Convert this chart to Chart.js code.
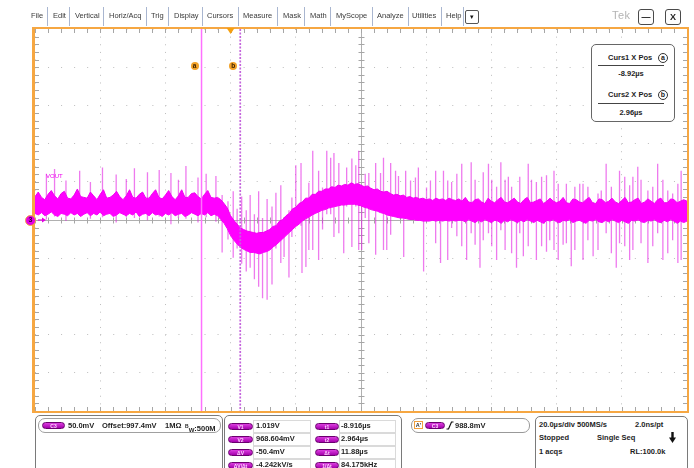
<!DOCTYPE html>
<html>
<head>
<meta charset="utf-8">
<title>VOUT load transient</title>
<script src="https://cdn.jsdelivr.net/npm/chart.js@4.4.1/dist/chart.umd.min.js"></script>
<style>
  html, body { margin:0; padding:0; background:#fff; }
  body { width:694px; height:468px; position:relative; overflow:hidden;
         font-family:"Liberation Sans", Arial, sans-serif; color:#222; }
  #scope { position:absolute; left:0; top:0; }
  .abs { position:absolute; white-space:nowrap; }
  .menu { top:11px; font-size:7.5px; line-height:10px; color:#3a3a3a; }
  .sep { top:7px; width:1px; height:19px; background:#a9b6d0; }
  .btn { top:9px; width:14px; height:14px; border:1px solid #4a4a4a; border-radius:3px;
         background:#fdfdfd; font:bold 9px/14px "Liberation Sans", Arial, sans-serif; text-align:center; color:#222; }
  .panel { box-sizing:border-box; border:1.5px solid #7a7a7a; border-radius:5px; background:#fff; }
  .b { font-weight:bold; font-size:7.5px; line-height:10px; color:#1e1e1e; }
  .pill { box-sizing:border-box; height:7px; border-radius:4px; background:linear-gradient(#dc3ee0,#a400ac);
          border:0.6px solid #6a006e; color:#ffd8ff; font:bold 5px/6px "Liberation Sans", Arial, sans-serif; text-align:center; }
  .vbox { box-sizing:border-box; height:13px; border:1px solid #dadada; }
  .clab { width:8px; height:8px; border-radius:50%; background:#f2a228; color:#3a2000;
          font:bold 6.5px/8px "Liberation Sans", Arial, sans-serif; text-align:center; }
  .circ { box-sizing:border-box; width:10px; height:10px; border:1px solid #333; border-radius:50%;
          font:bold 7px/8px "Liberation Sans", Arial, sans-serif; text-align:center; color:#222; }
</style>
</head>
<body>
<canvas id="scope" width="694" height="468"></canvas>

<!-- menu bar -->
<div class="abs menu" style="left:31px">File</div>
<div class="abs sep" style="left:47px"></div>
<div class="abs menu" style="left:53px">Edit</div>
<div class="abs sep" style="left:69px"></div>
<div class="abs menu" style="left:75px">Vertical</div>
<div class="abs sep" style="left:103px"></div>
<div class="abs menu" style="left:109px">Horiz/Acq</div>
<div class="abs sep" style="left:146px"></div>
<div class="abs menu" style="left:151px">Trig</div>
<div class="abs sep" style="left:168px"></div>
<div class="abs menu" style="left:174px">Display</div>
<div class="abs sep" style="left:202px"></div>
<div class="abs menu" style="left:207px">Cursors</div>
<div class="abs sep" style="left:238px"></div>
<div class="abs menu" style="left:243px">Measure</div>
<div class="abs sep" style="left:277px"></div>
<div class="abs menu" style="left:283px">Mask</div>
<div class="abs sep" style="left:304px"></div>
<div class="abs menu" style="left:310px">Math</div>
<div class="abs sep" style="left:330px"></div>
<div class="abs menu" style="left:336px">MyScope</div>
<div class="abs sep" style="left:372px"></div>
<div class="abs menu" style="left:377px">Analyze</div>
<div class="abs sep" style="left:408px"></div>
<div class="abs menu" style="left:412px">Utilities</div>
<div class="abs sep" style="left:441px"></div>
<div class="abs menu" style="left:446px">Help</div>
<div class="abs sep" style="left:463px"></div>
<div class="abs" style="left:465px;top:10px;width:12px;height:12px;border:1px solid #555;border-radius:2px;font-size:7px;line-height:12px;text-align:center;color:#111">&#9662;</div>
<div class="abs" style="left:612px;top:9px;font-size:11px;line-height:13px;color:#b4b4b4;letter-spacing:0.5px">Tek</div>
<div class="abs btn" style="left:638px">&#8212;</div>
<div class="abs btn" style="left:665px">X</div>

<!-- cursor readout -->
<div class="abs" style="left:591px;top:44px;width:84px;height:78px;box-sizing:border-box;border:1.5px solid #666;border-radius:5px;background:#fff"></div>
<div class="abs b" style="left:608px;top:53px">Curs1 X Pos</div>
<div class="abs circ" style="left:658px;top:53px">a</div>
<div class="abs" style="left:598px;top:65px;width:66px;height:1px;background:#444"></div>
<div class="abs b" style="left:598px;top:69px;width:66px;text-align:center">-8.92&#181;s</div>
<div class="abs b" style="left:608px;top:90px">Curs2 X Pos</div>
<div class="abs circ" style="left:658px;top:90px">b</div>
<div class="abs" style="left:598px;top:103px;width:66px;height:1px;background:#444"></div>
<div class="abs b" style="left:598px;top:108px;width:66px;text-align:center">2.96&#181;s</div>

<!-- markers placed from the chart scales -->
<div id="labA" class="abs clab">a</div>
<div id="labB" class="abs clab">b</div>
<div id="chMark" class="abs" style="box-sizing:border-box;width:11px;height:11px;border-radius:50%;border:1.5px solid #f6a742;background:#e400e4;color:#3a003a;font:bold 7px/8px 'Liberation Sans',Arial,sans-serif;text-align:center">3</div>
<div id="chName" class="abs" style="font-size:6px;line-height:7px;color:#ee00ee">VOUT</div>

<!-- vertical settings -->
<div class="abs panel" style="left:35px;top:415px;width:188px;height:60px"></div>
<div class="abs" style="left:38px;top:418px;width:183px;height:15px;box-sizing:border-box;border:1px solid #a0a0a0;border-radius:7px"></div>
<div class="abs pill" style="left:42px;top:422px;width:23px">C3</div>
<div class="abs b" style="left:68px;top:421px">50.0mV</div>
<div class="abs b" style="left:102px;top:421px">Offset:997.4mV</div>
<div class="abs b" style="left:165px;top:421px">1M&#937;</div>
<div class="abs b" style="left:185px;top:421px"><span style="font-size:5px;vertical-align:3px">B</span><span style="font-size:6px;vertical-align:-1px">W</span>:500M</div>

<!-- cursor measurements -->
<div class="abs panel" style="left:224px;top:415px;width:178px;height:60px"></div>
<div class="abs vbox" style="left:253px;top:420px;width:58px"></div>
<div class="abs vbox" style="left:339px;top:420px;width:57px"></div>
<div class="abs vbox" style="left:253px;top:433px;width:58px"></div>
<div class="abs vbox" style="left:339px;top:433px;width:57px"></div>
<div class="abs vbox" style="left:253px;top:446px;width:58px"></div>
<div class="abs vbox" style="left:339px;top:446px;width:57px"></div>
<div class="abs vbox" style="left:253px;top:459px;width:58px"></div>
<div class="abs vbox" style="left:339px;top:459px;width:57px"></div>
<div class="abs pill" style="left:228px;top:423px;width:25px">V1</div>
<div class="abs b" style="left:256px;top:421px">1.019V</div>
<div class="abs pill" style="left:315px;top:423px;width:24px">t1</div>
<div class="abs b" style="left:341px;top:421px">-8.916&#181;s</div>
<div class="abs pill" style="left:228px;top:436px;width:25px">V2</div>
<div class="abs b" style="left:256px;top:434px">968.604mV</div>
<div class="abs pill" style="left:315px;top:436px;width:24px">t2</div>
<div class="abs b" style="left:341px;top:434px">2.964&#181;s</div>
<div class="abs pill" style="left:228px;top:449px;width:25px">&#916;V</div>
<div class="abs b" style="left:256px;top:447px">-50.4mV</div>
<div class="abs pill" style="left:315px;top:449px;width:24px">&#916;t</div>
<div class="abs b" style="left:341px;top:447px">11.88&#181;s</div>
<div class="abs pill" style="left:228px;top:462px;width:25px">&#916;V/&#916;t</div>
<div class="abs b" style="left:256px;top:460px">-4.242kV/s</div>
<div class="abs pill" style="left:315px;top:462px;width:24px">1/&#916;t</div>
<div class="abs b" style="left:341px;top:460px">84.175kHz</div>

<!-- trigger -->
<div class="abs" style="left:411px;top:418px;width:119px;height:15px;box-sizing:border-box;border:1px solid #999;border-radius:7px"></div>
<div class="abs" style="left:414px;top:421px;width:9px;height:8px;box-sizing:border-box;border:1px solid #f0a040;font:bold 5.5px/6px 'Liberation Sans',Arial,sans-serif;text-align:center;color:#333">A'</div>
<div class="abs pill" style="left:425px;top:422px;width:20px">C3</div>
<svg class="abs" style="left:446px;top:421px" width="8" height="9" viewBox="0 0 8 9"><path d="M0.5 8 L2.5 8 L5.5 1 L7.5 1" fill="none" stroke="#111" stroke-width="1.2"/></svg>
<div class="abs b" style="left:455px;top:421px">988.8mV</div>

<!-- horizontal / acquisition -->
<div class="abs panel" style="left:535px;top:416px;width:153px;height:60px"></div>
<div class="abs b" style="left:539px;top:420px">20.0&#181;s/div</div>
<div class="abs b" style="left:577px;top:420px">500MS/s</div>
<div class="abs b" style="left:635px;top:420px">2.0ns/pt</div>
<div class="abs b" style="left:539px;top:433px">Stopped</div>
<div class="abs b" style="left:597px;top:433px">Single Seq</div>
<svg class="abs" style="left:669px;top:432px" width="7" height="11" viewBox="0 0 7 11"><rect x="2.3" y="0" width="2.4" height="6" fill="#111"/><path d="M0 5.5 L7 5.5 L3.5 11 Z" fill="#111"/></svg>
<div class="abs b" style="left:539px;top:447px">1 acqs</div>
<div class="abs b" style="left:630px;top:447px">RL:100.0k</div>

<script>
// Channel 3 (VOUT) record, 20 µs/div, 50 mV/div, offset 997.4 mV.
// Sample times in µs, trigger at 0.
const sampleTime = [
  -60,-59,-58,-57,-56,-55,-54,-53,-52,-51,-50,-49,-48,-47,-46,-45,-44,-43,-42,-41,
  -40,-39,-38,-37,-36,-35,-34,-33,-32,-31,-30,-29,-28,-27,-26,-25,-24,-23,-22,-21,
  -20,-19,-18,-17,-16,-15,-14,-13,-12,-11,-10,-9,-8,-7,-6,-5,-4,-3,-2,-1,
  0,1,2,3,4,5,6,7,8,9,10,11,12,13,14,15,16,17,18,19,
  20,21,22,23,24,25,26,27,28,29,30,31,32,33,34,35,36,37,38,39,
  40,41,42,43,44,45,46,47,48,49,50,51,52,53,54,55,56,57,58,59,
  60,61,62,63,64,65,66,67,68,69,70,71,72,73,74,75,76,77,78,79,
  80,81,82,83,84,85,86,87,88,89,90,91,92,93,94,95,96,97,98,99,
  100,101,102,103,104,105,106,107,108,109,110,111,112,113,114,115,116,117,118,119,
  120,121,122,123,124,125,126,127,128,129,130,131,132,133,134,135,136,137,138,139,140
];

// Upper edge of the ripple band (mV)
const topMv = [
  1028,1034,1027,1024,1031,1036,1029,1025,1032,1035,
  1026,1025,1030,1038,1028,1027,1026,1034,1029,1024,
  1031,1037,1026,1027,1030,1035,1028,1024,1029,1037,
  1027,1026,1031,1034,1026,1026,1032,1037,1027,1025,
  1030,1036,1028,1024,1029,1037,1027,1027,1032,1033,
  1028,1025,1031,1036,1027,1026,
  1027,1024,1019,1013,1003,997,992,987,985,983,982,981,980,981,981,983,
  985,989,990,996,998,1003,1006,1012,1014,1019,1021,1026,1026,1031,1031,
  1035,1035,1038,1038,1041,1040,1043,1042,1044,1043,1046,1044,
  1045,1043,1041,1042,1039,1037,1038,1035,1034,1035,
  1032,1030,1031,1029,1030,1027,1028,1026,1027,1025,
  1026,1024,1025,1023,1026,1024,1025,1023,1026,1024,1023,1025,
  1022,1027,1021,1020,1024,1025,1021,1019,1026,1022,
  1020,1024,1027,1021,1020,1023,1026,1021,1019,1024,
  1027,1020,1021,1023,1025,1019,1022,1026,1022,1020,
  1022,1027,1020,1019,1025,1024,1021,1020,1024,1027,
  1020,1019,1025,1024,1020,1022,1026,1021,1019,1023,
  1027,1020,1021,1024,1026,1019,1021,1025,1022,1019,
  1024,1026,1020,1020,1025,1024,1020,1022,1024,1022
];

// Lower edge of the ripple band (mV)
const bottomMv = [
  1006,1004,1007,1003,1005,1008,1004,1002,1006,1005,
  1003,1007,1004,1006,1002,1005,1007,1003,1006,1004,
  1008,1003,1005,1006,1002,1004,1007,1005,1003,1006,
  1004,1008,1002,1005,1006,1003,1007,1004,1005,1002,
  1006,1004,1007,1003,1005,1006,1002,1004,1007,1005,
  1003,1006,1004,1007,1003,1005,
  1003,998,993,986,977,971,966,962,959,957,955,955,954,953,955,956,
  958,962,965,969,973,977,981,985,989,992,996,999,1001,1004,1006,
  1008,1010,1011,1013,1014,1015,1016,1017,1017,1018,1018,1018,
  1017,1016,1014,1013,1011,1010,1009,1007,1006,1004,
  1003,1002,1001,1000,1000,999,998,998,997,997,
  996,996,996,997,996,997,996,997,996,997,996,997,
  997,995,998,996,994,997,995,998,996,994,
  997,996,993,997,995,998,996,994,997,995,
  998,996,994,997,995,993,997,996,998,995,
  994,997,996,998,994,996,997,995,993,997,
  996,998,995,994,997,995,998,996,994,997,
  995,993,997,996,998,995,994,997,996,998,
  995,994,997,995,998,996,993,996,994,996
];

// Switching spikes: time (µs), peak and trough (mV)
const spikeTime = [
  -56.5,-54,-50.5,-46.3,-43,-39.3,-35.1,-32,-29.5,-25.5,-21.9,-18.3,-16,-13.7,-10,-7.5,-4.5,
  -2.6,-0.8,0.8,2.0,3.4,4.8,6.0,7.3,8.6,9.8,11.2,
  12.7,13.9,15.4,16.4,17.9,18.8,20.0,21.6,21.9,23.1,24.0,25.2,27.0,28.2,29.5,
  30.7,31.7,33.2,34.7,35.6,37.2,38.4,39.3,40.2,41.3,42.4,44.5,46.0,46.9,47.9,
  49.1,50.6,51.5,53.1,53.7,55.2,56.7,57.6,59.2,60.1,61.3,62.9,64.4,65.3,66.6,
  67.8,69.4,70.9,72.4,73.8,75.0,76.5,77.5,79.1,80.1,81.6,82.9,84.2,85.2,86.2,
  87.7,88.7,89.8,91.3,92.3,93.8,95.4,96.9,97.9,99.2,100.5,102.0,103.0,104.5,105.6,
  107.1,108.1,109.6,111.2,112.7,113.7,115.2,116.8,118.3,119.3,120.9,122.4,123.4,124.9,125.9,
  128.0,129.5,131.0,132.6,134.1,135.6,137.2,138.2
];
const spikeHigh = [
  1058,1064,1049,1062,1047,1066,1057,1051,1065,1060,1063,1059,1050,1068,1053,1058,1055,
  1030,1022,1035,1012,1028,1010,1030,1005,1035,1000,1025,
  1015,1033,1043,1000,1010,1027,1069,1072,1005,1010,1046,1088,1062,1040,1088,
  1079,1085,1072,1025,1066,1078,1069,1088,1035,1058,1059,1072,1059,1079,1020,
  1072,1062,1055,1020,1062,1049,1053,1066,1015,1040,1049,1062,1015,1062,1049,
  1047,1058,1071,1022,1073,1050,1020,1060,1071,1050,1041,1073,1050,1054,1041,
  1021,1054,1020,1071,1050,1047,1054,1056,1021,1062,1045,1022,1045,1020,1041,
  1045,1045,1041,1021,1032,1036,1071,1041,1020,1062,1054,1043,1054,1067,1050,
  1036,1041,1071,1050,1036,1032,1045,1062
];
const spikeLow = [
  998,1002,996,1003,999,1001,994,1001,1000,997,1002,992,1000,999,994,1001,995,
  955,972,948,960,940,930,935,920,910,895,893,
  913,960,941,949,922,975,993,990,928,936,958,958,945,985,1005,
  1005,975,980,954,1015,962,1015,958,958,1000,967,952,1012,958,958,
  978,1008,1003,949,1005,1005,1003,1003,930,1000,1000,967,941,1000,945,
  987,976,963,945,980,965,935,971,980,963,945,984,958,996,954,
  935,980,950,963,995,945,963,956,971,958,945,965,967,937,958,
  996,945,971,950,958,995,980,954,935,967,963,945,958,996,967,
  941,963,980,945,954,971,941,945
];

// Graticule: 10 divisions each way
const xTicks = [-60,-40,-20,0,20,40,60,80,100,120,140];                                   // µs
const yTicks = [747.4,797.4,847.4,897.4,947.4,997.4,1047.4,1097.4,1147.4,1197.4,1247.4]; // mV
const cursorA = -8.92;       // µs
const cursorB = 2.96;        // µs
const triggerTime = 0;       // µs
const channelOffset = 997.4; // mV

const bandTop = sampleTime.map((t, i) => ({ x: t, y: topMv[i] }));
const bandBottom = sampleTime.map((t, i) => ({ x: t, y: bottomMv[i] }));
const spikePts = [];
spikeTime.forEach((t, i) => {
  spikePts.push({ x: t, y: spikeLow[i] }, { x: t, y: spikeHigh[i] }, { x: t, y: null });
});

const ORANGE = '#f6a742';

const scopeDecor = {
  id: 'scopeDecor',
  beforeDatasetsDraw(chart) {
    const { ctx, chartArea: a, scales: { x, y } } = chart;
    const cx = Math.round(x.getPixelForValue(xTicks[5])) + 0.5;
    const cy = Math.round(y.getPixelForValue(yTicks[5])) + 0.5;
    ctx.save();
    ctx.strokeStyle = '#a6a6a6';
    ctx.lineWidth = 1;
    ctx.beginPath();
    for (let i = 0; i < xTicks.length - 1; i++) {
      for (let k = 0; k < 5; k++) {
        const px = Math.round(x.getPixelForValue(xTicks[i] + k * (xTicks[i + 1] - xTicks[i]) / 5)) + 0.5;
        ctx.moveTo(px, cy - 3); ctx.lineTo(px, cy + 3);
        ctx.moveTo(px, a.top); ctx.lineTo(px, a.top + 4);
        ctx.moveTo(px, a.bottom); ctx.lineTo(px, a.bottom - 4);
      }
    }
    for (let i = 0; i < yTicks.length - 1; i++) {
      for (let k = 0; k < 5; k++) {
        const py = Math.round(y.getPixelForValue(yTicks[i] + k * (yTicks[i + 1] - yTicks[i]) / 5)) + 0.5;
        ctx.moveTo(cx - 3, py); ctx.lineTo(cx + 3, py);
        ctx.moveTo(a.left, py); ctx.lineTo(a.left + 4, py);
        ctx.moveTo(a.right, py); ctx.lineTo(a.right - 4, py);
      }
    }
    ctx.stroke();
    ctx.restore();
  },
  afterDatasetsDraw(chart) {
    const { ctx, chartArea: a, scales: { x, y } } = chart;
    ctx.save();
    // cursor a: solid
    const xa = x.getPixelForValue(cursorA);
    ctx.strokeStyle = '#ff70ff';
    ctx.lineWidth = 1.5;
    ctx.beginPath(); ctx.moveTo(xa, a.top); ctx.lineTo(xa, a.bottom); ctx.stroke();
    // cursor b: dashed
    const xb = x.getPixelForValue(cursorB);
    ctx.strokeStyle = '#c464dc';
    ctx.lineWidth = 1.7;
    ctx.setLineDash([2, 1.5]);
    ctx.beginPath(); ctx.moveTo(xb, a.top); ctx.lineTo(xb, a.bottom); ctx.stroke();
    ctx.setLineDash([]);
    // frame
    ctx.fillStyle = ORANGE;
    ctx.fillRect(a.left - 3, a.top - 2, a.right - a.left + 5, 2);
    ctx.fillRect(a.left - 3, a.top - 2, 3, a.bottom - a.top + 4);
    ctx.fillRect(a.right, a.top - 2, 2, a.bottom - a.top + 4);
    ctx.fillRect(a.left - 3, a.bottom, a.right - a.left + 5, 2);
    // trigger position
    const xt = x.getPixelForValue(triggerTime);
    ctx.fillStyle = '#f5a010';
    ctx.beginPath();
    ctx.moveTo(xt - 4, a.top - 1); ctx.lineTo(xt + 4, a.top - 1); ctx.lineTo(xt, a.top + 5);
    ctx.closePath(); ctx.fill();
    // channel ground arrow
    const cy = y.getPixelForValue(channelOffset);
    ctx.strokeStyle = '#e400e4';
    ctx.fillStyle = '#e400e4';
    ctx.lineWidth = 1.2;
    ctx.beginPath(); ctx.moveTo(38, cy); ctx.lineTo(43, cy); ctx.stroke();
    ctx.beginPath(); ctx.moveTo(42, cy - 2.5); ctx.lineTo(46, cy); ctx.lineTo(42, cy + 2.5); ctx.closePath(); ctx.fill();
    ctx.restore();
  }
};

const chart = new Chart(document.getElementById('scope'), {
  type: 'line',
  data: {
    datasets: [
      { data: bandTop, borderColor: '#f000f0', backgroundColor: '#ff00ff', borderWidth: 1,
        fill: '+1', pointRadius: 0, tension: 0, order: 0 },
      { data: bandBottom, borderColor: '#f000f0', borderWidth: 1,
        fill: false, pointRadius: 0, tension: 0, order: 1 },
      { data: spikePts, borderColor: 'rgba(228,40,228,0.62)', borderWidth: 1.3,
        fill: false, pointRadius: 0, spanGaps: false, order: 2 }
    ]
  },
  options: {
    responsive: false,
    animation: false,
    events: [],
    layout: { padding: { left: 35, top: 29, right: 7, bottom: 57 }, autoPadding: false },
    plugins: { legend: { display: false }, tooltip: { enabled: false } },
    scales: {
      x: {
        type: 'linear', min: xTicks[0], max: xTicks[xTicks.length - 1],
        afterBuildTicks: s => { s.ticks = xTicks.map(v => ({ value: v })); },
        ticks: { display: false },
        grid: { drawTicks: false, lineWidth: 1,
          color: c => (c.tick && c.tick.value === xTicks[5]) ? '#b0b0b0' : '#bdbdbd' },
        border: { display: false,
          dash: c => (c.tick && c.tick.value === xTicks[5]) ? [] : [1, 6.64] }
      },
      y: {
        type: 'linear', min: yTicks[0], max: yTicks[yTicks.length - 1],
        afterBuildTicks: s => { s.ticks = yTicks.map(v => ({ value: v })); },
        ticks: { display: false },
        grid: { drawTicks: false, lineWidth: 1,
          color: c => (c.tick && c.tick.value === yTicks[5]) ? '#b0b0b0' : '#bdbdbd' },
        border: { display: false,
          dash: c => (c.tick && c.tick.value === yTicks[5]) ? [] : [1, 12.04] }
      }
    }
  },
  plugins: [scopeDecor]
});

// place the marker labels from the chart scales
function place(id, left, top) {
  const el = document.getElementById(id);
  el.style.left = left + 'px';
  el.style.top = top + 'px';
}
const xs = chart.scales.x, ys = chart.scales.y;
place('labA', xs.getPixelForValue(cursorA) - 11, 62);
place('labB', xs.getPixelForValue(cursorB) - 11, 62);
const yc = ys.getPixelForValue(channelOffset);
place('chMark', 25, yc - 5.5);
place('chName', 46, yc - 47);
</script>
</body>
</html>
